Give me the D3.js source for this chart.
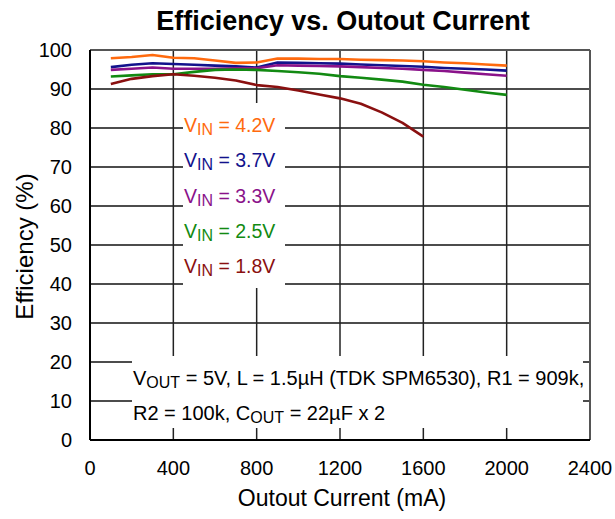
<!DOCTYPE html>
<html><head><meta charset="utf-8">
<script src="https://cdn.jsdelivr.net/npm/d3@7"></script>
<style>
html,body{margin:0;padding:0;background:#fff;}
svg{display:block;font-family:"Liberation Sans",Arial,sans-serif;}
</style></head>
<body><svg id="c" width="615" height="519"></svg>
<script>
const currents = [100,200,300,400,500,600,700,800,900,1000,1100,1200,1300,1400,1500,1600,1700,1800,1900,2000];
const eff42 = [97.9,98.2,98.7,98.0,97.9,97.3,96.7,96.8,97.8,97.8,97.7,97.7,97.5,97.4,97.3,97.1,96.8,96.6,96.3,96.0];
const eff37 = [95.6,96.2,96.6,96.4,96.2,96.0,95.8,95.5,96.8,96.7,96.6,96.5,96.3,96.1,95.9,95.7,95.4,95.2,95.0,94.7];
const eff33 = [94.9,95.2,95.5,95.2,95.2,95.2,95.3,95.3,96.1,96.0,95.9,95.8,95.6,95.4,95.2,94.9,94.6,94.2,93.8,93.4];
const eff25 = [93.2,93.5,93.8,93.8,94.4,94.9,95.0,94.9,94.6,94.3,93.9,93.3,92.9,92.4,91.9,91.1,90.5,89.8,89.1,88.5];
const currents18 = [100,200,300,400,500,600,700,800,900,1000,1100,1200,1300,1400,1500,1600];
const eff18 = [91.3,92.6,93.3,93.8,93.4,92.9,92.2,91.0,90.5,89.6,88.6,87.6,86.2,84.0,81.3,77.8];
const seriesNames = ["4.2V","3.7V","3.3V","2.5V","1.8V"];
const seriesColors = ["#ff6a0e","#12128c","#8a128a","#128a12","#8a1010"];
const xTicks = [0,400,800,1200,1600,2000,2400];
const yTicks = [0,10,20,30,40,50,60,70,80,90,100];

const series = [
  {name:seriesNames[0], x:currents, y:eff42, color:seriesColors[0]},
  {name:seriesNames[1], x:currents, y:eff37, color:seriesColors[1]},
  {name:seriesNames[2], x:currents, y:eff33, color:seriesColors[2]},
  {name:seriesNames[3], x:currents, y:eff25, color:seriesColors[3]},
  {name:seriesNames[4], x:currents18, y:eff18, color:seriesColors[4]}
];

const svg = d3.select("#c");
const x = d3.scaleLinear().domain([0,2400]).range([90,590]);
const y = d3.scaleLinear().domain([0,100]).range([440,50]);

// grid
const g = svg.append("g");
g.selectAll("line.h").data(yTicks.slice(1,-1)).join("line")
  .attr("x1",x(0)).attr("x2",x(2400)).attr("y1",d=>y(d)).attr("y2",d=>y(d))
  .attr("stroke","#111").attr("stroke-width",1.5);
g.selectAll("line.v").data(xTicks.slice(1,-1)).join("line")
  .attr("y1",y(0)).attr("y2",y(100)).attr("x1",d=>x(d)).attr("x2",d=>x(d))
  .attr("stroke","#222").attr("stroke-width",1.5);
// frame
svg.append("line").attr("x1",x(0)).attr("x2",x(2400)).attr("y1",y(100)).attr("y2",y(100)).attr("stroke","#555").attr("stroke-width",2);
svg.append("line").attr("x1",x(2400)).attr("x2",x(2400)).attr("y1",y(100)).attr("y2",y(0)).attr("stroke","#555").attr("stroke-width",2);

// white boxes (legend + annotation)
svg.append("rect").attr("x",183).attr("y",103).attr("width",102).attr("height",185).attr("fill","#fff");
svg.append("rect").attr("x",132).attr("y",356).attr("width",451).attr("height",72).attr("fill","#fff");

// axes
svg.append("line").attr("x1",x(0)).attr("x2",x(0)).attr("y1",y(100)).attr("y2",y(0)).attr("stroke","#000").attr("stroke-width",2);
svg.append("line").attr("x1",x(0)).attr("x2",x(2400)).attr("y1",y(0)).attr("y2",y(0)).attr("stroke","#000").attr("stroke-width",2);

// lines
const line = d3.line().x(d=>x(d[0])).y(d=>y(d[1]));
svg.append("g").selectAll("path").data(series).join("path")
  .attr("d",s=>line(s.x.map((v,i)=>[v,s.y[i]])))
  .attr("fill","none").attr("stroke",s=>s.color).attr("stroke-width",2.6).attr("stroke-linejoin","round");

// tick labels
svg.append("g").selectAll("text").data(xTicks).join("text")
  .attr("x",d=>x(d)).attr("y",475).attr("text-anchor","middle").attr("font-size",20).text(d=>d);
svg.append("g").selectAll("text").data(yTicks).join("text")
  .attr("x",72).attr("y",d=>y(d)+7).attr("text-anchor","end").attr("font-size",20).text(d=>d);

// titles
svg.append("text").attr("x",343).attr("y",30).attr("text-anchor","middle").attr("font-size",27).attr("font-weight","bold").text("Efficiency vs. Outout Current");
svg.append("text").attr("x",342).attr("y",506).attr("text-anchor","middle").attr("font-size",23).text("Outout Current (mA)");
svg.append("text").attr("transform","translate(33,246.5) rotate(-90)").attr("text-anchor","middle").attr("font-size",24).text("Efficiency (%)");

// legend
series.forEach((s,i)=>{
  const t = svg.append("text").attr("x",184).attr("y",132+i*35.25).attr("font-size",19.5).attr("fill",s.color);
  t.append("tspan").text("V");
  t.append("tspan").attr("font-size",16).attr("dy",3).text("IN");
  t.append("tspan").attr("dy",-3).text(" = "+s.name);
});

// annotation
const a1 = svg.append("text").attr("x",133).attr("y",385).attr("font-size",20).attr("fill","#000");
a1.append("tspan").text("V");
a1.append("tspan").attr("font-size",16).attr("dy",3).text("OUT");
a1.append("tspan").attr("dy",-3).text(" = 5V, L = 1.5\u00b5H (TDK SPM6530), R1 = 909k,");
const a2 = svg.append("text").attr("x",133).attr("y",420).attr("font-size",20).attr("fill","#000");
a2.append("tspan").text("R2 = 100k, C");
a2.append("tspan").attr("font-size",16).attr("dy",3).text("OUT");
a2.append("tspan").attr("dy",-3).text(" = 22\u00b5F x 2");
</script></body></html>
